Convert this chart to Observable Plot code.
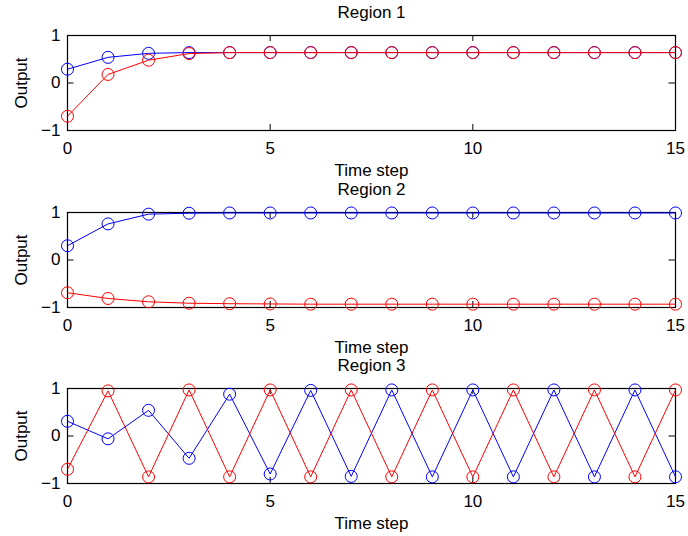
<!DOCTYPE html>
<html>
<head>
<meta charset="utf-8">
<script src="https://cdn.jsdelivr.net/npm/d3@7"></script>
<script src="https://cdn.jsdelivr.net/npm/@observablehq/plot@0.6"></script>
<style>
  html, body { margin: 0; padding: 0; background: #fff; }
  #chart svg { display: block; }
</style>
</head>
<body>
<div id="chart"></div>
<script>
const steps = [0, 1, 2, 3, 4, 5, 6, 7, 8, 9, 10, 11, 12, 13, 14, 15];
const titles = ["Region 1", "Region 2", "Region 3"];
const xTicks = [0, 5, 10, 15];
const yTicks = [-1, 0, 1];

const region1Blue = [0.29, 0.54, 0.625, 0.64, 0.64, 0.64, 0.64, 0.64, 0.64, 0.64, 0.64, 0.64, 0.64, 0.64, 0.64, 0.64];
const region1Red  = [-0.70, 0.18, 0.48, 0.62, 0.64, 0.64, 0.64, 0.64, 0.64, 0.64, 0.64, 0.64, 0.64, 0.64, 0.64, 0.64];

const region2Blue = [0.30, 0.76, 0.965, 0.985, 0.99, 0.99, 0.99, 0.99, 0.99, 0.99, 0.99, 0.99, 0.99, 0.99, 0.99, 0.99];
const region2Red  = [-0.69, -0.81, -0.88, -0.91, -0.92, -0.925, -0.93, -0.93, -0.93, -0.93, -0.93, -0.93, -0.93, -0.93, -0.93, -0.93];

const region3Blue = [0.31, -0.06, 0.54, -0.47, 0.88, -0.80, 0.96, -0.85, 0.97, -0.86, 0.97, -0.86, 0.97, -0.86, 0.97, -0.86];
const region3Red  = [-0.70, 0.95, -0.86, 0.97, -0.86, 0.97, -0.86, 0.97, -0.86, 0.97, -0.86, 0.97, -0.86, 0.97, -0.86, 0.97];

const series = [
  {title: titles[0], blue: region1Blue, red: region1Red, height: 177, marginBottom: 47},
  {title: titles[1], blue: region2Blue, red: region2Red, height: 176, marginBottom: 46},
  {title: titles[2], blue: region3Blue, red: region3Red, height: 183, marginBottom: 53}
];

const font = "'Liberation Sans', Arial, Helvetica, sans-serif";
const fs = 17;

function panel(p) {
  const blueData = steps.map((t, i) => ({t, v: p.blue[i]}));
  const redData = steps.map((t, i) => ({t, v: p.red[i]}));
  return Plot.plot({
    width: 688,
    height: p.height,
    marginLeft: 67,
    marginRight: 13,
    marginTop: 35,
    marginBottom: p.marginBottom,
    style: {fontFamily: font, fontSize: fs + "px", color: "#000", background: "#fff", overflow: "visible"},
    x: {domain: [0, 15]},
    y: {domain: [-1, 1]},
    marks: [
      Plot.frame({stroke: "#000", strokeWidth: 1.2}),
      // inward ticks (MATLAB style)
      Plot.ruleX(xTicks, {stroke: "#000", insetTop: 89}),
      Plot.ruleX(xTicks, {stroke: "#000", insetBottom: 89}),
      Plot.ruleY(yTicks, {stroke: "#000", x1: 0, x2: 0.16}),
      Plot.ruleY(yTicks, {stroke: "#000", x1: 14.84, x2: 15}),
      Plot.axisX(xTicks, {tickSize: 0, tickPadding: 11, fontSize: fs, label: null}),
      Plot.axisY(yTicks, {tickSize: 0, tickPadding: 7, fontSize: fs, label: null}),
      Plot.line(blueData, {x: "t", y: "v", stroke: "#0000ff", strokeWidth: 1}),
      Plot.dot(blueData, {x: "t", y: "v", r: 6, stroke: "#0000ff", fill: "none", strokeWidth: 1}),
      Plot.line(redData, {x: "t", y: "v", stroke: "#ff0000", strokeWidth: 1}),
      Plot.dot(redData, {x: "t", y: "v", r: 6, stroke: "#ff0000", fill: "none", strokeWidth: 1}),
      Plot.text([p.title], {frameAnchor: "top", lineAnchor: "middle", textAnchor: "middle", dy: -23, fontSize: fs, fill: "#000"}),
      Plot.text(["Time step"], {frameAnchor: "bottom", lineAnchor: "middle", textAnchor: "middle", dy: 40, fontSize: fs, fill: "#000"}),
      Plot.text(["Output"], {frameAnchor: "left", lineAnchor: "middle", textAnchor: "middle", dx: -46, rotate: -90, fontSize: fs, fill: "#000"})
    ]
  });
}

const container = document.getElementById("chart");
for (const p of series) container.appendChild(panel(p));
</script>
</body>
</html>
